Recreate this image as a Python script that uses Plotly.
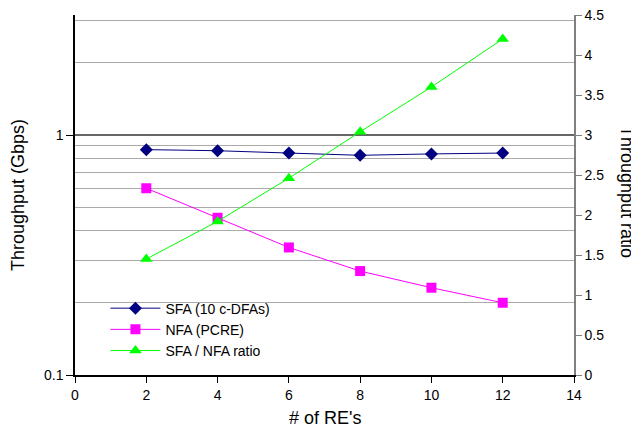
import plotly.graph_objects as go

res = [2, 4, 6, 8, 10, 12]
sfa = [0.869, 0.86, 0.841, 0.823, 0.834, 0.841]
nfa = [0.60, 0.452, 0.34, 0.271, 0.231, 0.20]
ratio = [1.45, 1.92, 2.46, 3.04, 3.60, 4.20]

font = "Liberation Sans, Arial, sans-serif"

fig = go.Figure()
fig.add_trace(go.Scatter(x=res, y=sfa, name="SFA (10 c-DFAs)", mode="lines+markers",
                         line=dict(color="#000080", width=1),
                         marker=dict(symbol="diamond", size=10, color="#000080")))
fig.add_trace(go.Scatter(x=res, y=nfa, name="NFA (PCRE)", mode="lines+markers",
                         line=dict(color="#FF00FF", width=1),
                         marker=dict(symbol="square", size=10, color="#FF00FF")))
fig.add_trace(go.Scatter(x=res, y=ratio, name="SFA / NFA ratio", mode="lines+markers",
                         yaxis="y2",
                         line=dict(color="#00FF00", width=1),
                         marker=dict(symbol="triangle-up", size=11, color="#00FF00")))

fig.update_layout(
    width=631, height=422,
    margin=dict(l=67, r=65, t=7, b=55),
    paper_bgcolor="white", plot_bgcolor="white",
    font=dict(family=font, size=14, color="black"),
    showlegend=True,
    legend=dict(x=0.061, y=0.229, xanchor="left", yanchor="top",
                bgcolor="rgba(255,255,255,0)", font=dict(size=14),
                tracegroupgap=0, itemwidth=50),
    xaxis=dict(range=[0, 14], dtick=2, showgrid=False, zeroline=False, automargin=False,
               showline=True, linecolor="black", linewidth=1.5,
               ticks="outside", ticklen=6, tickcolor="black"),
    yaxis=dict(type="log", range=[-1, 0.5], tickvals=[0.1, 1], ticktext=["0.1", "1"],
               showgrid=True, gridcolor="#666666", gridwidth=1.5, automargin=False,
               showline=True, linecolor="black", linewidth=1.5,
               ticks="outside", ticklen=7, tickcolor="black", zeroline=False,
               minor=dict(tickvals=[0.2, 0.3, 0.4, 0.5, 0.6, 0.7, 0.8, 0.9, 2, 3],
                          showgrid=True, gridcolor="#aaaaaa", gridwidth=1, ticks="")),
    yaxis2=dict(overlaying="y", side="right", range=[0, 4.5], dtick=0.5, automargin=False,
                showgrid=False, zeroline=False, showline=True, linecolor="#808080",
                linewidth=1.5, ticks="outside", ticklen=6, tickcolor="#808080",
                tickformat="~g", ticklabeloverflow="allow"),
)

fig.add_annotation(text="# of RE's", xref="paper", yref="paper",
                   x=0.5, y=0, xanchor="center", yanchor="middle", yshift=-43,
                   showarrow=False, font=dict(size=18, family=font))
fig.add_annotation(text="Throughput (Gbps)", textangle=-90, xref="paper", yref="paper",
                   x=0, y=0.5, xanchor="center", yanchor="middle", xshift=-57,
                   showarrow=False, font=dict(size=18, family=font))
fig.add_annotation(text="Throughput ratio", textangle=90, xref="paper", yref="paper",
                   x=1.0, y=0.5, xanchor="center", yanchor="middle", xshift=53, yshift=3,
                   showarrow=False, font=dict(size=18, family=font))

fig.write_html("out.html")
